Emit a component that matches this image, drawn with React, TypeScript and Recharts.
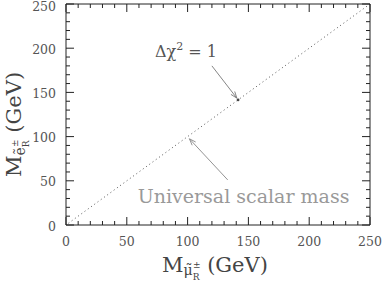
import React from 'react';
import { ComposedChart, Line, XAxis, YAxis, ReferenceLine, Scatter, Label } from 'recharts';

// diagonal "universal scalar mass" line (dotted)
const diagonalX = [2, 250];
const diagonalY = [2, 250];
// Δχ² = 1 contour point
const contourX = [141.5];
const contourY = [141.5];
// arrows: [start, end]
const chiArrowX = [120, 140.5];
const chiArrowY = [180, 143.5];
const scalarArrowX = [133, 101.5];
const scalarArrowY = [51, 97.5];
// ticks
const tickValues = [0, 10, 20, 30, 40, 50, 60, 70, 80, 90, 100, 110, 120, 130, 140, 150, 160, 170, 180, 190, 200, 210, 220, 230, 240, 250];
const majorTickLabels = [0, 50, 100, 150, 200, 250];

const diagonalData = diagonalX.map((x, i) => ({ x, y: diagonalY[i] }));
const contourData = contourX.map((x, i) => ({ x, y: contourY[i] }));

const FONT = 'DejaVu Serif';
const FRAME = '#222';
const TICK_TEXT = '#555';

const isMajor = (v: number) => majorTickLabels.includes(v);

const BottomTick = (p: any) => {
  const v = p.payload.value;
  const len = isMajor(v) ? 8 : 4;
  return (
    <g>
      <line x1={p.x} x2={p.x} y1={p.y} y2={p.y - len} stroke={FRAME} strokeWidth={1} />
      {isMajor(v) && (
        <text x={p.x} y={p.y + 21} textAnchor="middle" fontFamily={FONT} fontSize={12.5} fill={TICK_TEXT}>
          {v}
        </text>
      )}
    </g>
  );
};
const TopTick = (p: any) => {
  const v = p.payload.value;
  const len = isMajor(v) ? 8 : 4;
  return <line x1={p.x} x2={p.x} y1={p.y} y2={p.y + len} stroke={FRAME} strokeWidth={1} />;
};
const LeftTick = (p: any) => {
  const v = p.payload.value;
  const len = isMajor(v) ? 8 : 4;
  const dy = v === 250 ? 6.5 : 5.5;
  return (
    <g>
      <line x1={p.x} x2={p.x + len} y1={p.y} y2={p.y} stroke={FRAME} strokeWidth={1} />
      {isMajor(v) && (
        <text x={p.x - 10} y={p.y + dy} textAnchor="end" fontFamily={FONT} fontSize={12.5} fill={TICK_TEXT}>
          {v}
        </text>
      )}
    </g>
  );
};
const RightTick = (p: any) => {
  const v = p.payload.value;
  const len = isMajor(v) ? 8 : 4;
  return <line x1={p.x} x2={p.x - len} y1={p.y} y2={p.y} stroke={FRAME} strokeWidth={1} />;
};

const arrowHead = (x1: number, y1: number, x2: number, y2: number, color: string) => {
  const a = Math.atan2(y2 - y1, x2 - x1);
  const L = 7;
  const s = 0.35;
  return (
    <g>
      <line x1={x2} y1={y2} x2={x2 - L * Math.cos(a - s)} y2={y2 - L * Math.sin(a - s)} stroke={color} strokeWidth={0.9} />
      <line x1={x2} y1={y2} x2={x2 - L * Math.cos(a + s)} y2={y2 - L * Math.sin(a + s)} stroke={color} strokeWidth={0.9} />
    </g>
  );
};

const ChiArrow = (p: any) => (
  <g>
    <line x1={p.x1} y1={p.y1} x2={p.x2} y2={p.y2} stroke="#777" strokeWidth={0.9} />
    {arrowHead(p.x1, p.y1, p.x2, p.y2, '#777')}
    <text x={p.x1 - 57} y={p.y1 - 9} fontFamily={FONT} fontSize={16} fill="#555">
      <tspan>Δχ</tspan>
      <tspan fontSize={11} dy={-7}>2</tspan>
      <tspan fontSize={16} dy={7}> = 1</tspan>
    </text>
  </g>
);

const ScalarArrow = (p: any) => (
  <g>
    <line x1={p.x1} y1={p.y1} x2={p.x2} y2={p.y2} stroke="#888" strokeWidth={0.9} />
    {arrowHead(p.x1, p.y1, p.x2, p.y2, '#888')}
    <text x={p.x1 - 90} y={p.y1 + 23} fontFamily={FONT} fontSize={19} fill="#999">
      Universal scalar mass
    </text>
  </g>
);

const XTitle = (p: any) => {
  const vb = p.viewBox || { x: 66, y: 225 };
  return (
    <text x={vb.x + 96} y={vb.y + 47} fontFamily={FONT} fontSize={21} fill="#444">
      <tspan>M</tspan>
      <tspan fontSize={14} dy={3}>{'\u03bc\u0303'}</tspan>
      <tspan fontSize={9} dy={5}>R</tspan>
      <tspan fontSize={9} dx={-6.5} dy={-12}>±</tspan>
      <tspan fontSize={21} dy={4}> (GeV)</tspan>
    </text>
  );
};

const YTitle = (p: any) => {
  const vb = p.viewBox || { x: 0, y: 4 };
  const x = vb.x + 21;
  const y = vb.y + 173;
  return (
    <text x={x} y={y} transform={`rotate(-90, ${x}, ${y})`} fontFamily={FONT} fontSize={21} fill="#444">
      <tspan>M</tspan>
      <tspan fontSize={14} dy={4}>{'e\u0303'}</tspan>
      <tspan fontSize={9} dy={4}>R</tspan>
      <tspan fontSize={9} dx={-6.5} dy={-11}>±</tspan>
      <tspan fontSize={21} dy={3}> (GeV)</tspan>
    </text>
  );
};

export default function App() {
  return (
    <div style={{ position: 'absolute', left: 0, top: 0, width: 382, height: 283, background: '#fff' }}>
      <ComposedChart width={382} height={283} margin={{ top: 3, right: 10, bottom: 0, left: 0 }}>
        <XAxis
          xAxisId="bottom"
          dataKey="x"
          type="number"
          domain={[0, 250]}
          ticks={tickValues}
          interval={0}
          orientation="bottom"
          height={58}
          tickSize={0}
          tickMargin={0}
          tickLine={false}
          axisLine={{ stroke: FRAME, strokeWidth: 1 }}
          tick={BottomTick}
          allowDataOverflow
        >
          <Label content={XTitle} />
        </XAxis>
        <XAxis
          xAxisId="top"
          dataKey="x"
          type="number"
          domain={[0, 250]}
          ticks={tickValues}
          interval={0}
          orientation="top"
          height={1}
          tickSize={0}
          tickMargin={0}
          tickLine={false}
          axisLine={{ stroke: FRAME, strokeWidth: 1 }}
          tick={TopTick}
          allowDataOverflow
        />
        <YAxis
          yAxisId="left"
          dataKey="y"
          type="number"
          domain={[0, 250]}
          ticks={tickValues}
          interval={0}
          orientation="left"
          width={66}
          tickSize={0}
          tickMargin={0}
          tickLine={false}
          axisLine={{ stroke: FRAME, strokeWidth: 1 }}
          tick={LeftTick}
          allowDataOverflow
        >
          <Label content={YTitle} />
        </YAxis>
        <YAxis
          yAxisId="right"
          dataKey="y"
          type="number"
          domain={[0, 250]}
          ticks={tickValues}
          interval={0}
          orientation="right"
          width={2}
          tickSize={0}
          tickMargin={0}
          tickLine={false}
          axisLine={{ stroke: FRAME, strokeWidth: 1 }}
          tick={RightTick}
          allowDataOverflow
        />
        <Line
          xAxisId="bottom"
          yAxisId="left"
          data={diagonalData}
          dataKey="y"
          stroke="#555"
          strokeWidth={1}
          strokeDasharray="1 3"
          dot={false}
          activeDot={false}
          isAnimationActive={false}
        />
        <Scatter
          xAxisId="bottom"
          yAxisId="left"
          data={contourData}
          dataKey="y"
          fill="#444"
          shape={(p: any) => <circle cx={p.cx} cy={p.cy} r={1.4} fill="#444" />}
          isAnimationActive={false}
        />
        <ReferenceLine
          xAxisId="bottom"
          yAxisId="left"
          segment={[{ x: chiArrowX[0], y: chiArrowY[0] }, { x: chiArrowX[1], y: chiArrowY[1] }]}
          shape={ChiArrow}
          ifOverflow="visible"
        />
        <ReferenceLine
          xAxisId="bottom"
          yAxisId="left"
          segment={[{ x: scalarArrowX[0], y: scalarArrowY[0] }, { x: scalarArrowX[1], y: scalarArrowY[1] }]}
          shape={ScalarArrow}
          ifOverflow="visible"
        />
      </ComposedChart>
    </div>
  );
}
